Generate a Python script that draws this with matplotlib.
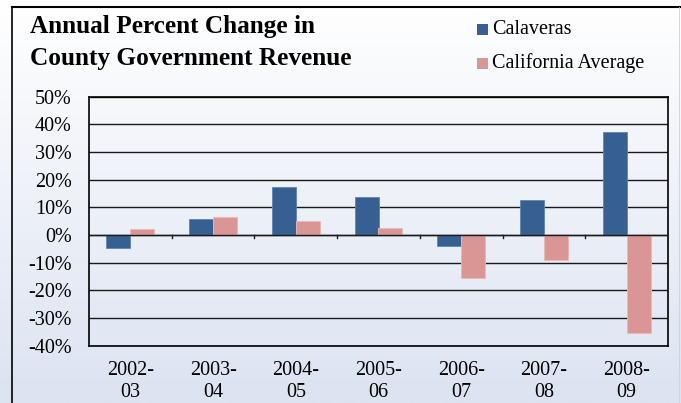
import numpy as np
import matplotlib
matplotlib.use("Agg")
import matplotlib.pyplot as plt
from matplotlib.patches import Rectangle

years = ["2002-\n03", "2003-\n04", "2004-\n05", "2005-\n06", "2006-\n07", "2007-\n08", "2008-\n09"]
calaveras = [-4.8, 5.8, 17.3, 13.6, -3.9, 12.6, 37.3]
california = [2.1, 6.5, 5.1, 2.4, -15.4, -9.2, -35.4]
yticks = [50, 40, 30, 20, 10, 0, -10, -20, -30, -40]

plt.rcParams['font.family'] = ['Liberation Serif', 'DejaVu Serif']

W, H = 681, 403
fig = plt.figure(figsize=(W / 100, H / 100), dpi=100)

# background gradient over the whole figure
bg = fig.add_axes([0, 0, 1, 1], zorder=0)
grad = np.linspace(0, 1, 256).reshape(-1, 1)
top = np.array([1.0, 1.0, 1.0])
bot = np.array([0xdc, 0xe3, 0xf1]) / 255
img = top + (bot - top) * grad[:, :, None]
bg.imshow(img, aspect='auto', extent=[0, 1, 0, 1], origin='upper')
bg.set_xlim(0, 1)
bg.set_ylim(0, 1)
bg.axis('off')
# outer frame
bg.plot([12 / W, 12 / W], [0, 1 - 7 / H], color='black', lw=1.2)
bg.plot([12 / W, 1], [1 - 7 / H, 1 - 7 / H], color='black', lw=1.5)
bg.plot([679 / W, 679 / W], [0, 1 - 7 / H], color='#d0d0d0', lw=0.6)

left, right, ytop, ybot = 89, 668, 96.7, 345.7
ax = fig.add_axes([left / W, 1 - ybot / H, (right - left) / W, (ybot - ytop) / H], zorder=1)
ax.patch.set_alpha(0)

x = np.arange(len(years))
bw = 0.29
ax.bar(x - bw / 2, calaveras, bw, color='#376092', edgecolor='#5f84b5', linewidth=0.6, zorder=3, label='Calaveras')
ax.bar(x + bw / 2, california, bw, color='#da9694', edgecolor='#ebb8b6', linewidth=0.6, zorder=3, label='California Average')

ax.set_xlim(-0.5, len(years) - 0.5)
ax.set_ylim(-40, 50)
ax.set_yticks(yticks)
ax.set_yticklabels([f"{v}%" for v in yticks], fontsize=14.5)
ax.yaxis.grid(True, color='#1a1a1a', lw=1.0, zorder=1)
ax.tick_params(axis='y', length=0, pad=12.5)

# category labels below the plot, boundary ticks on the zero line
ax.set_xticks(x)
ax.set_xticklabels(years, fontsize=14.5, linespacing=1.2)
ax.tick_params(axis='x', length=0, pad=11)
ax.axhline(0, color='#1a1a1a', lw=1.0, zorder=4)
for b in np.arange(0.5, len(years) - 0.5, 1):
    ax.plot([b, b], [0, -1.2], color='#1a1a1a', lw=1.0, zorder=4)

for s in ax.spines.values():
    s.set_color('black')
    s.set_linewidth(1.2)

fig.text(30 / W, 1 - 27 / H, "Annual Percent Change in", fontsize=18.2, fontweight='bold', va='center', ha='left')
fig.text(30 / W, 1 - 58 / H, "County Government Revenue", fontsize=18.2, fontweight='bold', va='center', ha='left')

# legend
for i, (lab, col) in enumerate([("Calaveras", '#376092'), ("California Average", '#da9694')]):
    yc = [29.3, 63.3][i]
    fig.patches.append(Rectangle((477 / W, 1 - (yc + 5.5) / H), 11 / W, 11 / H, transform=fig.transFigure,
                                 facecolor=col, edgecolor='none', zorder=5))
    fig.text(492 / W, 1 - yc / H, lab, fontsize=14.5, va='center', ha='left')

fig.savefig("out.png", dpi=100)
